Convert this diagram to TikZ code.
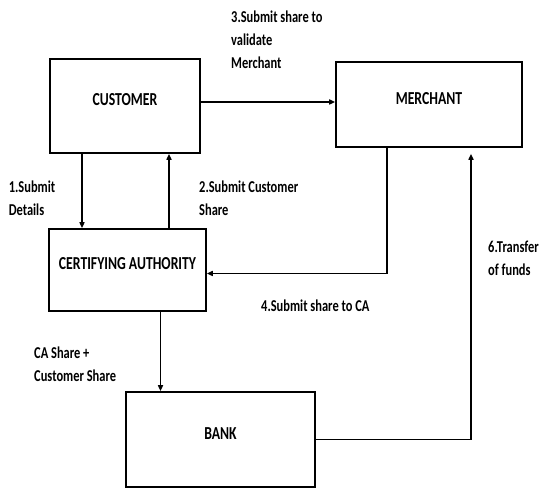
\documentclass[tikz,border=0pt]{standalone}
\usepackage{fontspec}
\setmainfont{Carlito}[FakeStretch=0.75]
\usetikzlibrary{arrows.meta}

\begin{document}
\begin{tikzpicture}[x=20pt,y=20pt,
	>={Triangle[length=6pt,width=5pt]},
	box/.style={draw, line width=1.6pt, font=\fontsize{18.3}{20}\selectfont\bfseries, text height=12.5pt, text depth=13pt},
	lbl/.style={anchor=north west, inner sep=0pt, align=left, font=\fontsize{16.6}{23}\selectfont\bfseries},
	flow/.style={->, line width=1.5pt}]
	\useasboundingbox (0,0) rectangle (26.95,24.45);

	\node (cust) [box, minimum width=150pt, minimum height=94pt] at (6.25,19.15) {CUSTOMER};
	\node (merch) [box, minimum width=186pt, minimum height=85pt] at (21.45,19.225) {MERCHANT};
	\node (ca) [box, minimum width=157pt, minimum height=82pt] at (6.375,10.95) {CERTIFYING AUTHORITY};
	\node (bank) [box, minimum width=189pt, minimum height=95pt] at (11.025,2.475) {BANK};

	\node (s3) [lbl] at (11.55,23.9) {3.Submit share to\\validate\\Merchant};
	\node (s1) [lbl] at (0.43,15.425) {1.Submit\\Details};
	\node (s2) [lbl] at (9.95,15.425) {2.Submit Customer\\Share};
	\node (s4) [lbl] at (13.05,9.475) {4.Submit share to CA};
	\node (s5) [lbl] at (1.7,7.125) {CA Share +\\Customer Share};
	\node (s6) [lbl] at (24.4,12.425) {6.Transfer\\of funds};

	\draw [flow] ([yshift=4pt]cust.east) -- ([yshift=4pt]cust.east -| merch.west);
	\draw [flow] ([xshift=-43pt]cust.south) -- ([xshift=-43pt]cust.south |- ca.north);
	\draw [flow] ([xshift=41.5pt]ca.north) -- ([xshift=41.5pt]ca.north |- cust.south);
	\draw [flow] ([xshift=-42pt]merch.south) |- ([yshift=-3.5pt]ca.east);
	\draw [flow] ([xshift=33pt]ca.south) -- ([xshift=33pt]ca.south |- bank.north);
	\draw [flow] (bank.east) -| ([xshift=42pt,yshift=-6pt]merch.south);

\end{tikzpicture}
\end{document}
